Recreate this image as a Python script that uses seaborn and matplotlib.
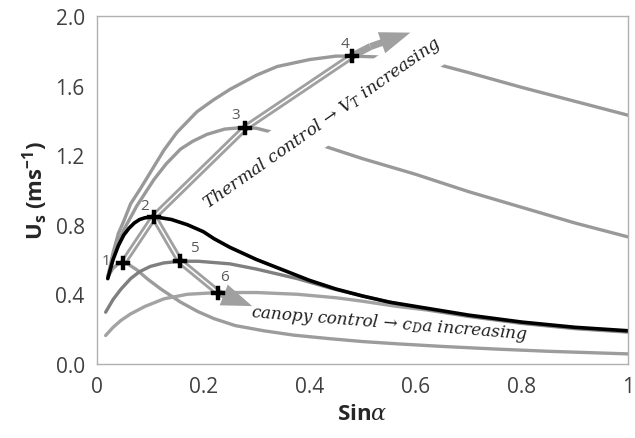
import matplotlib
matplotlib.use("Agg")
import matplotlib.pyplot as plt
import seaborn as sns

# curve 1 (peak at point 1)
c1_x = [0.02, 0.03, 0.04, 0.049, 0.06, 0.075, 0.094, 0.12, 0.157, 0.19, 0.22, 0.26, 0.314, 0.37, 0.44, 0.5, 0.565, 0.65, 0.75, 0.85, 1.0]
c1_y = [0.50, 0.55, 0.575, 0.58, 0.57, 0.54, 0.49, 0.43, 0.355, 0.30, 0.26, 0.22, 0.19, 0.165, 0.144, 0.128, 0.115, 0.10, 0.085, 0.072, 0.057]
# black curve (point 2)
c2_x = [0.02, 0.03, 0.04, 0.05, 0.06, 0.07, 0.08, 0.09, 0.107, 0.12, 0.14, 0.17, 0.2, 0.22, 0.25, 0.3, 0.35, 0.4, 0.45, 0.5, 0.55, 0.6, 0.7, 0.8, 0.9, 1.0]
c2_y = [0.49, 0.60, 0.68, 0.74, 0.78, 0.81, 0.83, 0.84, 0.845, 0.84, 0.83, 0.80, 0.76, 0.72, 0.67, 0.60, 0.54, 0.48, 0.43, 0.39, 0.355, 0.33, 0.28, 0.24, 0.21, 0.19]
# curve through point 5
c5_x = [0.016, 0.03, 0.045, 0.063, 0.08, 0.1, 0.125, 0.156, 0.19, 0.25, 0.3, 0.377, 0.44, 0.5, 0.565, 0.62, 0.7, 0.8, 0.9, 1.0]
c5_y = [0.297, 0.37, 0.43, 0.49, 0.53, 0.56, 0.58, 0.59, 0.59, 0.575, 0.545, 0.49, 0.435, 0.39, 0.345, 0.315, 0.275, 0.235, 0.205, 0.185]
# curve through point 6
c6_x = [0.016, 0.03, 0.045, 0.063, 0.09, 0.126, 0.17, 0.228, 0.3, 0.377, 0.45, 0.5, 0.565, 0.62, 0.7, 0.8, 0.9, 1.0]
c6_y = [0.163, 0.21, 0.25, 0.287, 0.33, 0.374, 0.40, 0.41, 0.41, 0.40, 0.38, 0.36, 0.33, 0.31, 0.272, 0.232, 0.202, 0.182]
# curve through point 3
c3_x = [0.02, 0.03, 0.04, 0.05, 0.075, 0.107, 0.13, 0.157, 0.18, 0.207, 0.24, 0.276, 0.3, 0.326, 0.37, 0.41, 0.5, 0.6, 0.7, 0.8, 0.9, 1.0]
c3_y = [0.50, 0.61, 0.70, 0.77, 0.91, 1.06, 1.15, 1.235, 1.28, 1.32, 1.35, 1.36, 1.355, 1.335, 1.31, 1.27, 1.18, 1.09, 0.99, 0.90, 0.81, 0.73]
# curve through point 4
c4_x = [0.02, 0.03, 0.04, 0.05, 0.063, 0.082, 0.1, 0.126, 0.15, 0.188, 0.22, 0.251, 0.3, 0.339, 0.4, 0.45, 0.48, 0.53, 0.57, 0.62, 0.7, 0.8, 0.9, 1.0]
c4_y = [0.50, 0.64, 0.75, 0.82, 0.92, 1.01, 1.10, 1.23, 1.33, 1.45, 1.52, 1.58, 1.66, 1.71, 1.75, 1.77, 1.77, 1.765, 1.755, 1.74, 1.675, 1.59, 1.51, 1.43]

# numbered points
pt_labels = ["1", "2", "3", "4", "5", "6"]
pt_x = [0.049, 0.107, 0.278, 0.48, 0.156, 0.228]
pt_y = [0.58, 0.845, 1.355, 1.77, 0.59, 0.41]

# arrow paths
thermal_x = [0.049, 0.107, 0.278, 0.48, 0.515]
thermal_y = [0.58, 0.845, 1.355, 1.77, 1.825]
thermal_tip = (0.59, 1.905)
canopy_x = [0.107, 0.156, 0.228, 0.235]
canopy_y = [0.845, 0.59, 0.41, 0.40]
canopy_tip = (0.292, 0.332)

sns.set_theme(style="white")
plt.rcParams["font.family"] = ["Open Sans", "DejaVu Sans"]
plt.rcParams["mathtext.fontset"] = "custom"
plt.rcParams["mathtext.rm"] = "Open Sans:bold"
plt.rcParams["mathtext.it"] = "DejaVu Serif:italic"
plt.rcParams["mathtext.bf"] = "Open Sans:bold"

fig = plt.figure(figsize=(6.35, 4.39), dpi=100)
ax = fig.add_axes([0.153, 0.169, 0.836, 0.792])

lw = 2.4
sns.lineplot(x=c1_x, y=c1_y, ax=ax, color="#9c9c9c", lw=lw, zorder=2)
sns.lineplot(x=c6_x, y=c6_y, ax=ax, color="#a3a3a3", lw=lw, zorder=2)
sns.lineplot(x=c5_x, y=c5_y, ax=ax, color="#7f7f7f", lw=lw, zorder=2)
sns.lineplot(x=c3_x, y=c3_y, ax=ax, color="#999999", lw=lw, zorder=2)
sns.lineplot(x=c4_x, y=c4_y, ax=ax, color="#999999", lw=lw, zorder=2)
sns.lineplot(x=c2_x, y=c2_y, ax=ax, color="black", lw=2.6, zorder=3)

ax.text(0.424, 1.39, r"Thermal control → $V_T$ increasing", rotation=35,
        ha="center", va="center", fontsize=12.4, family="DejaVu Serif",
        style="italic", color="#1f1f1f", zorder=4,
        bbox=dict(boxstyle="square,pad=0.7", fc="white", ec="none"))
ax.text(0.55, 0.238, r"canopy control → $c_D$a increasing", rotation=-4.6,
        ha="center", va="center", fontsize=12.2, family="DejaVu Serif",
        style="italic", color="#1f1f1f", zorder=4)

arrow_col = "#a0a0a0"
for px, py, tip in [(thermal_x, thermal_y, thermal_tip), (canopy_x, canopy_y, canopy_tip)]:
    ax.plot(px, py, color=arrow_col, lw=5.2, solid_capstyle="butt", solid_joinstyle="round", zorder=5)
    ax.plot(px[:-1], py[:-1], color="white", lw=1.1, zorder=5.5)
    ax.annotate("", xy=tip, xytext=(px[-1], py[-1]), zorder=5,
                arrowprops=dict(arrowstyle="simple,head_length=1.1,head_width=0.8,tail_width=0.25",
                                mutation_scale=20, fc=arrow_col, ec="none",
                                shrinkA=0, shrinkB=0))

sns.scatterplot(x=pt_x, y=pt_y, ax=ax, marker="P", s=95, color="black",
                edgecolor="black", linewidth=0.3, zorder=6)
offsets = [(-17, 2), (-9, 11), (-9, 14), (-7, 13), (14, 14), (6, 16)]
for lab, x, y, off in zip(pt_labels, pt_x, pt_y, offsets):
    ax.annotate(lab, (x, y), xytext=off, textcoords="offset pixels",
                ha="center", va="center", fontsize=11, color="#595959", zorder=7)

ax.set_xlim(0, 1)
ax.set_ylim(0, 2)
ax.set_xticks([0, 0.2, 0.4, 0.6, 0.8, 1.0])
ax.set_xticklabels(["0", "0.2", "0.4", "0.6", "0.8", "1"])
ax.set_yticks([0, 0.4, 0.8, 1.2, 1.6, 2.0])
ax.set_yticklabels(["0.0", "0.4", "0.8", "1.2", "1.6", "2.0"])
ax.tick_params(direction="out", length=6, width=1, color="#b0b0b0",
               labelsize=15, labelcolor="#404040", pad=3)
for s in ax.spines.values():
    s.set_color("#b0b0b0")
    s.set_linewidth(1)
    s.set_zorder(10)

ax.set_xlabel(r"Sin$\alpha$", fontsize=16, fontweight="bold", color="#262626")
ax.set_ylabel(r"U$_\mathrm{s}$ (ms$^{\mathrm{-1}}$)", fontsize=16, fontweight="bold", color="#262626")

fig.savefig("out.png", dpi=100)
